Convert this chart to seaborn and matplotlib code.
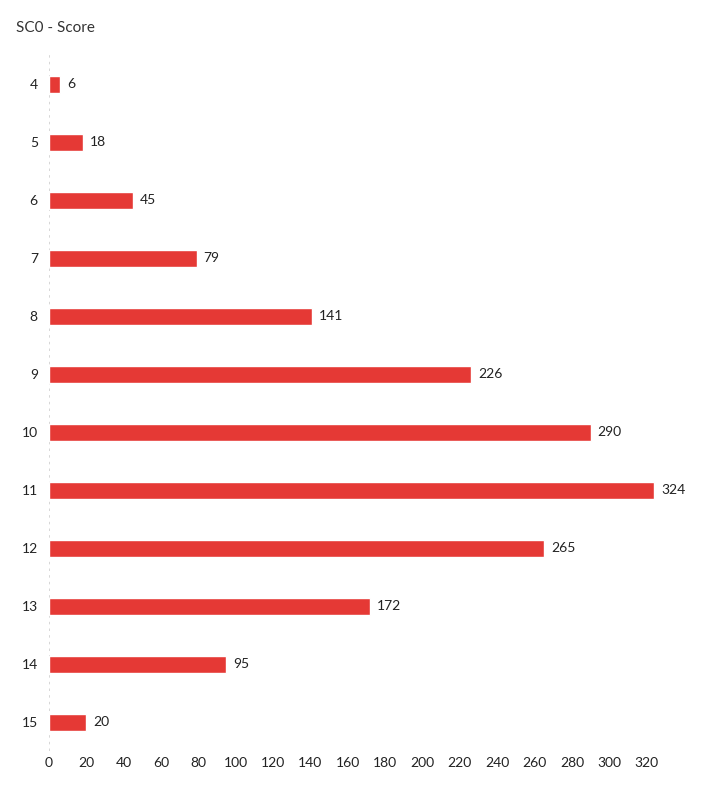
import pandas as pd
import matplotlib
matplotlib.use("Agg")
import matplotlib.pyplot as plt
import seaborn as sns

scores = ['4', '5', '6', '7', '8', '9', '10', '11', '12', '13', '14', '15']
counts = [6, 18, 45, 79, 141, 226, 290, 324, 265, 172, 95, 20]
xticks = list(range(0, 340, 20))

df = pd.DataFrame({'score': scores, 'count': counts})

sns.set_style('white')
plt.rcParams['font.family'] = ['Lato', 'DejaVu Sans']

fig = plt.figure(figsize=(7.2, 8), dpi=100)
ax = fig.add_axes([0.068, 0.061, 0.882, 0.87])

sns.barplot(data=df, x='count', y='score', order=scores, color='#e53935',
            saturation=1, width=0.29, orient='h', ax=ax)

ax.bar_label(ax.containers[0], padding=5, fontsize=10, color='#222222')

ax.set_xlim(0, 340)
ax.set_xticks(xticks)
ax.set_xlabel('')
ax.set_ylabel('')
ax.tick_params(axis='y', length=0, labelsize=10, colors='#222222', pad=8)
ax.tick_params(axis='x', length=0, labelsize=10, colors='#222222', pad=4)
for s in ax.spines.values():
    s.set_visible(False)
ax.axvline(0, color='#d0d0d0', linestyle=(0, (1.5, 2.5)), linewidth=1.2, zorder=0)

fig.text(0.022, 0.965, 'SC0 - Score', fontsize=11, color='#333333', va='center')

fig.savefig('out.png', dpi=100)
